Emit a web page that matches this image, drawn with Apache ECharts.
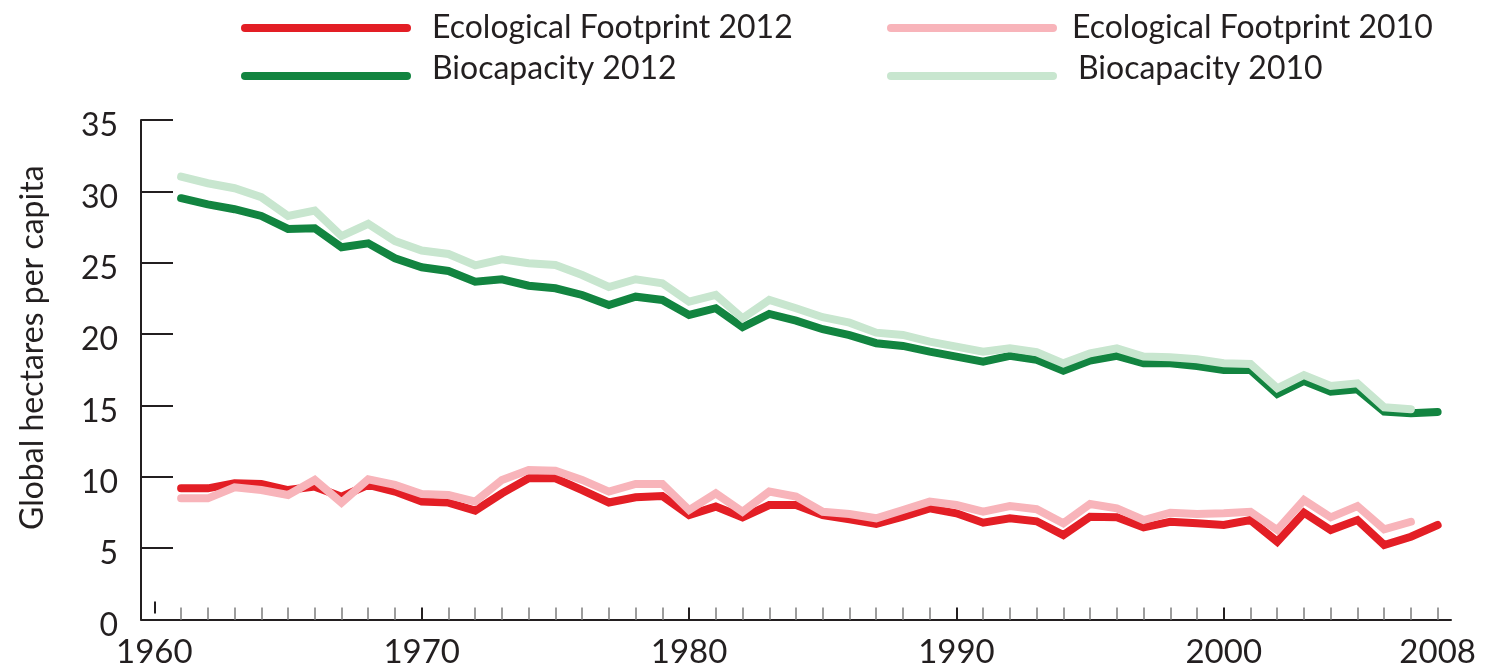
<!DOCTYPE html>
<html><head><meta charset="utf-8">
<script src="https://cdn.jsdelivr.net/npm/echarts@6/dist/echarts.min.js"></script>
<style>html,body{margin:0;padding:0;background:#fff}#c{width:1490px;height:668px}</style>
</head><body><div id="c"></div>
<script>
const years2012 = [1961,1962,1963,1964,1965,1966,1967,1968,1969,1970,1971,1972,1973,1974,1975,1976,1977,1978,1979,1980,1981,1982,1983,1984,1985,1986,1987,1988,1989,1990,1991,1992,1993,1994,1995,1996,1997,1998,1999,2000,2001,2002,2003,2004,2005,2006,2007,2008];
const years2010 = years2012.slice(0, 47);
const ecoFootprint2012 = [9.19,9.19,9.54,9.50,9.07,9.31,8.61,9.43,8.96,8.26,8.19,7.63,8.84,9.89,9.89,9.07,8.20,8.56,8.65,7.32,7.91,7.16,8.02,8.02,7.32,7.02,6.69,7.20,7.79,7.44,6.78,7.09,6.88,5.92,7.20,7.16,6.46,6.85,6.74,6.62,6.97,5.45,7.48,6.27,6.97,5.22,5.80,6.62];
const ecoFootprint2010 = [8.49,8.49,9.26,9.07,8.72,9.78,8.19,9.82,9.43,8.79,8.72,8.26,9.78,10.48,10.43,9.78,8.96,9.50,9.50,7.67,8.84,7.55,8.96,8.61,7.55,7.39,7.09,7.67,8.26,8.02,7.55,7.95,7.73,6.74,8.09,7.79,6.97,7.48,7.39,7.44,7.55,6.27,8.37,7.16,7.95,6.32,6.85];
const biocapacity2012 = [29.52,29.09,28.75,28.28,27.37,27.41,26.08,26.36,25.31,24.68,24.42,23.67,23.84,23.39,23.21,22.74,22.04,22.62,22.39,21.34,21.81,20.48,21.41,20.94,20.34,19.92,19.36,19.17,18.77,18.42,18.07,18.47,18.19,17.44,18.14,18.47,17.95,17.95,17.76,17.48,17.48,15.80,16.71,15.96,16.13,14.57,14.45,14.54];
const biocapacity2010 = [31.03,30.57,30.22,29.59,28.28,28.65,26.87,27.72,26.52,25.85,25.61,24.82,25.24,24.96,24.84,24.14,23.30,23.84,23.56,22.27,22.74,21.11,22.39,21.81,21.18,20.80,20.10,19.94,19.47,19.12,18.77,19.00,18.73,17.95,18.65,19.00,18.42,18.37,18.23,17.95,17.90,16.20,17.13,16.36,16.55,14.87,14.73];
const xLabelValues = [1960,1970,1980,1990,2000,2008];
const decadeTicks = [1970,1980,1990,2000];
const yearTicks = years2012.filter(y => decadeTicks.indexOf(y) < 0);
const startTick = [1960];
const yTicks = [0,5,10,15,20,25,30,35];

const FONT = 'Lato';
const TXT = '#231F20';
const X_MIN = 1959.5, X_MAX = 2008.5;
const pairs = (xs, ys) => xs.map((x, i) => [x, ys[i]]);
const legendIcon = 'path://M4 0H166A4 4 0 0 1 166 8H4A4 4 0 0 1 4 0Z';
const mkLegend = (name, left, top, padL, padB) => ({
  data: [name], left: left, top: top, orient: 'vertical', padding: 0,
  icon: legendIcon, itemWidth: 170, itemHeight: 8, selectedMode: false,
  formatter: n => '{t|' + n + '}',
  textStyle: { fontFamily: FONT, fontSize: 32, color: TXT,
    rich: { t: { fontFamily: FONT, fontSize: 32, color: TXT, lineHeight: 36, padding: [0, 0, padB, padL] } } }
});
const mkLine = (name, xs, ys, color) => ({
  name: name, type: 'line', data: pairs(xs, ys), showSymbol: false, symbol: 'none',
  xAxisIndex: 0, yAxisIndex: 0,
  color: color, lineStyle: { color: color, width: 8, cap: 'round', join: 'miter' },
  animation: false, silent: true, z: 3
});
const tickX = (vals, color, offset) => ({
  type: 'value', position: 'bottom', min: X_MIN, max: X_MAX, offset: offset,
  splitLine: { show: false }, axisLine: { show: false }, axisLabel: { show: false },
  axisTick: { show: true, inside: true, length: 12, customValues: vals, lineStyle: { color: color, width: 2 } }
});

const chart = echarts.init(document.getElementById('c'));
chart.setOption({
  animation: false,
  grid: { left: 141, right: 39, top: 120, bottom: 48.5, containLabel: false, outerBoundsMode: 'none' },
  legend: [
    mkLegend('Ecological Footprint 2012', 241, 12, 16, 0),
    mkLegend('Biocapacity 2012', 241, 53, 16, 14),
    mkLegend('Ecological Footprint 2010', 887, 12, 10, 0),
    mkLegend('Biocapacity 2010', 887, 53, 16, 14)
  ],
  xAxis: [
    { type: 'value', position: 'bottom', min: X_MIN, max: X_MAX, splitLine: { show: false },
      axisLine: { show: true, onZero: false, lineStyle: { color: TXT, width: 2 } },
      axisTick: { show: false },
      axisLabel: { customValues: xLabelValues, margin: 16, fontFamily: FONT, fontSize: 33, color: TXT, formatter: v => String(v) } },
    tickX(yearTicks, '#9d9d9d', 0),
    tickX(decadeTicks, TXT, 0),
    tickX(startTick, TXT, -6)
  ],
  yAxis: [
    { type: 'value', position: 'left', min: 0, max: 35, interval: 5, splitLine: { show: false },
      axisLine: { show: true, onZero: false, lineStyle: { color: TXT, width: 2 } },
      axisTick: { show: false },
      axisLabel: { margin: 23, fontFamily: FONT, fontSize: 32, color: TXT,
        formatter: v => '{v|' + v + '}',
        rich: { v: { fontFamily: FONT, fontSize: 32, color: TXT, padding: [12, 0, 0, 0] } } },
      name: 'Global hectares per capita', nameLocation: 'middle', nameGap: 92,
      nameTextStyle: { fontFamily: FONT, fontSize: 32, color: TXT, padding: [0,0,0,44] } },
    { type: 'value', position: 'left', min: 0, max: 35, interval: 5, splitLine: { show: false },
      axisLine: { show: false }, axisLabel: { show: false },
      axisTick: { show: true, inside: true, length: 32, customValues: yTicks, lineStyle: { color: TXT, width: 2 } } }
  ],
  series: [
    mkLine('Ecological Footprint 2012', years2012, ecoFootprint2012, '#E31E25'),
    mkLine('Biocapacity 2012', years2012, biocapacity2012, '#128440'),
    mkLine('Ecological Footprint 2010', years2010, ecoFootprint2010, '#F8B4BA'),
    mkLine('Biocapacity 2010', years2010, biocapacity2010, '#C8E6CF')
  ]
});
</script></body></html>
